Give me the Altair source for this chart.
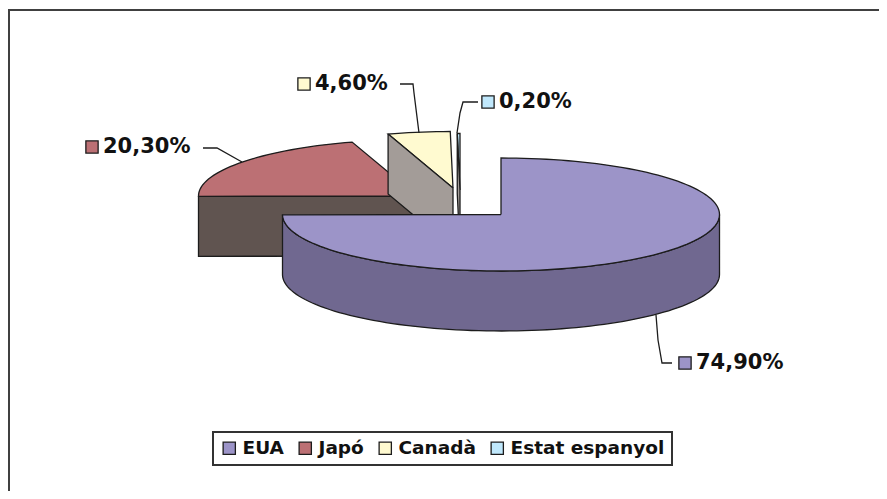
import math
import altair as alt
import pandas as pd

# ---- chart values
categories = ["EUA", "Japó", "Canadà", "Estat espanyol"]
shares = [74.9, 20.3, 4.6, 0.2]
value_labels = ["74,90%", "20,30%", "4,60%", "0,20%"]
top_colors = ["#9c94c8", "#bc7074", "#fffad0", "#c0e8fc"]

# ---- drawing layout (page pixels)
RX, RY, DEPTH = 218.5, 56.5, 60
EDGE = "#1c1c1c"
FONT = "DejaVu Sans"
centers = [(501, 214.5), (417, 196), (453, 188), (460, 190)]
rim_color = "#706890"
cut_colors = [None, "#605450", "#a39c98", "#a39c98"]
key_pos = [(685, 363), (92, 147), (304, 84), (488, 102)]
leaders = [
    [(656, 315), (658, 340), (662, 363), (672, 363)],
    [(203, 148), (217, 148), (242, 162)],
    [(400, 84), (413, 84), (414, 93), (419, 133)],
    [(478, 102), (463, 102), (460, 113), (457, 133)],
]

X = alt.X("x:Q", axis=None, scale=alt.Scale(domain=[8, 879], nice=False, zero=False))
Y = alt.Y("y:Q", axis=None, scale=alt.Scale(domain=[491, 8], nice=False, zero=False))


def at(c, deg, drop=0):
    t = math.radians(deg)
    return (c[0] + RX * math.sin(t), c[1] - RY * math.cos(t) + drop)


def arc(c, a, b, drop=0):
    n = max(2, int(abs(b - a) / 2) + 2)
    return [at(c, a + (b - a) * i / (n - 1), drop) for i in range(n)]


def frame(points):
    return pd.DataFrame(
        [{"x": p[0], "y": p[1], "o": i} for i, p in enumerate(points)]
    )


def poly(points, fill):
    pts = list(points) + [points[0]]
    return (
        alt.Chart(frame(pts))
        .mark_line(fill=fill, stroke=EDGE, strokeWidth=1.3, strokeJoin="miter", clip=False)
        .encode(x=X, y=Y, order="o:Q")
    )


def path(points, color=EDGE, width=1.3):
    return (
        alt.Chart(frame(points))
        .mark_line(stroke=color, strokeWidth=width, clip=False)
        .encode(x=X, y=Y, order="o:Q")
    )


starts = [sum(shares[:i]) * 3.6 for i in range(len(shares))]
ends = [sum(shares[: i + 1]) * 3.6 for i in range(len(shares))]

layers = [path([(9, 491), (9, 10), (879, 10)], "#404040", 2)]

# slices behind the big one, back to front: Japó, Canadà, Estat espanyol
for i in (1, 2, 3):
    c = centers[i]
    e = at(c, starts[i])
    cut = [e, c, (c[0], c[1] + DEPTH), (e[0], e[1] + DEPTH)]
    top = [c] + arc(c, starts[i], ends[i])
    if i == 1:
        layers += [poly(cut, cut_colors[i]), poly(top, top_colors[i])]
    else:
        layers += [poly(top, top_colors[i]), poly(cut, cut_colors[i])]

# the big slice: rim then top
c = centers[0]
rim = arc(c, 90, ends[0]) + arc(c, ends[0], 90, DEPTH)
layers += [poly(rim, rim_color), poly([c] + arc(c, starts[0], ends[0]), top_colors[0])]

for line in leaders:
    layers.append(path(line))

table = pd.DataFrame(
    {
        "cat": categories,
        "label": value_labels,
        "x": [p[0] for p in key_pos],
        "y": [p[1] for p in key_pos],
    }
)

keys = (
    alt.Chart(table)
    .mark_square(size=150, opacity=1, filled=True, stroke=EDGE, strokeWidth=1.3)
    .encode(
        x=X,
        y=Y,
        color=alt.Color(
            "cat:N",
            sort=None,
            scale=alt.Scale(domain=categories, range=top_colors),
            legend=alt.Legend(
                title=None,
                orient="none",
                legendX=205,
                legendY=424,
                direction="horizontal",
                columns=4,
                gridAlign="none",
                symbolType="square",
                symbolSize=150,
                symbolStrokeColor=EDGE,
                symbolStrokeWidth=1.3,
                symbolOpacity=1,
                labelFont=FONT,
                labelFontSize=18.5,
                labelFontWeight="bold",
                labelColor="#111111",
                labelOffset=4,
                columnPadding=12,
                padding=7,
                strokeColor="#333333",
                fillColor="#ffffff",
            ),
        ),
    )
)

texts = (
    alt.Chart(table)
    .mark_text(
        align="left",
        baseline="middle",
        dx=11,
        font=FONT,
        fontSize=21,
        fontWeight="bold",
        color="#111111",
    )
    .encode(x=X, y=Y, text="label:N")
)

chart = (
    alt.layer(*layers, keys, texts)
    .properties(
        width=871,
        height=483,
        padding=0,
        background="#ffffff",
        autosize=alt.AutoSizeParams(type="none"),
    )
    .configure_view(stroke=None)
    .configure_legend(strokeWidth=2)
)

chart.save("out.html", embed_options={"renderer": "svg", "actions": False})
